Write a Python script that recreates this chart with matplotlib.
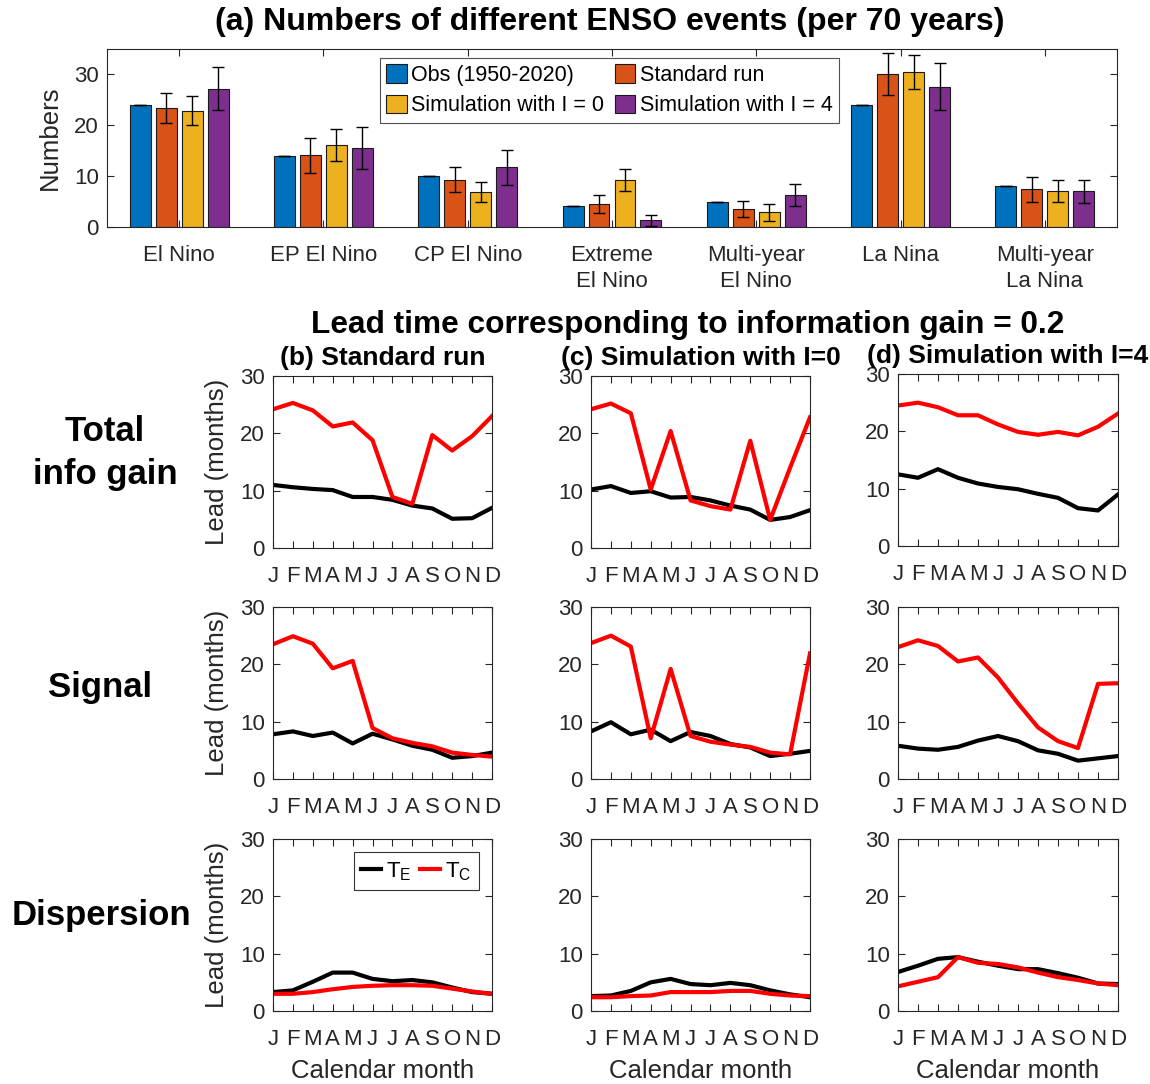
import numpy as np
import matplotlib.pyplot as plt

plt.rcParams['font.family'] = ['Liberation Sans', 'DejaVu Sans']

W, H = 1150, 1084
GRAY = '#262626'

# ---- data: (a) event counts per 70 years ----
events = ['El Nino', 'EP El Nino', 'CP El Nino', 'Extreme\nEl Nino',
          'Multi-year\nEl Nino', 'La Nina', 'Multi-year\nLa Nina']
obs = [24.0, 14.0, 10.0, 4.1, 5.0, 24.0, 8.0]
obs_err = [0, 0, 0, 0, 0, 0, 0]
std_run = [23.4, 14.1, 9.3, 4.5, 3.6, 30.1, 7.4]
std_err = [3.0, 3.4, 2.5, 1.8, 1.6, 4.2, 2.4]
sim0 = [22.9, 16.1, 6.9, 9.2, 2.9, 30.5, 7.1]
sim0_err = [2.8, 3.1, 1.9, 2.2, 1.7, 3.3, 2.2]
sim4 = [27.2, 15.6, 11.7, 1.3, 6.3, 27.6, 7.0]
sim4_err = [4.2, 4.1, 3.4, 1.1, 2.2, 4.6, 2.3]
bar_names = ['Obs (1950-2020)', 'Standard run', 'Simulation with I = 0', 'Simulation with I = 4']
bar_colors = ['#0072BD', '#D95319', '#EDB120', '#7E2F8E']

# ---- data: lead time (months) for info gain = 0.2 ----
months = ['J', 'F', 'M', 'A', 'M', 'J', 'J', 'A', 'S', 'O', 'N', 'D']

# total info gain
te_total_b = [11.0, 10.6, 10.3, 10.1, 8.9, 8.9, 8.4, 7.4, 6.9, 5.1, 5.2, 7.0]
tc_total_b = [24.2, 25.3, 24.0, 21.2, 21.9, 18.8, 8.9, 7.7, 19.7, 17.0, 19.5, 23.0]
te_total_c = [10.2, 10.8, 9.6, 9.9, 8.8, 8.9, 8.3, 7.4, 6.7, 4.9, 5.4, 6.6]
tc_total_c = [24.2, 25.2, 23.5, 10.2, 20.4, 8.3, 7.3, 6.7, 18.7, 4.9, 14.0, 22.8]
te_total_d = [12.5, 11.9, 13.4, 11.9, 10.9, 10.3, 9.9, 9.1, 8.4, 6.6, 6.2, 9.0]
tc_total_d = [24.5, 25.0, 24.2, 22.8, 22.8, 21.2, 19.9, 19.4, 19.9, 19.3, 20.8, 23.1]

# signal
te_signal_b = [7.8, 8.3, 7.5, 8.1, 6.2, 7.9, 6.9, 5.8, 5.1, 3.7, 4.0, 4.6]
tc_signal_b = [23.5, 24.9, 23.6, 19.3, 20.6, 8.9, 7.1, 6.3, 5.7, 4.6, 4.2, 3.9]
te_signal_c = [8.3, 9.9, 7.8, 8.6, 6.6, 8.2, 7.5, 6.1, 5.5, 4.0, 4.4, 4.9]
tc_signal_c = [23.7, 25.0, 23.1, 7.1, 19.2, 7.5, 6.5, 6.0, 5.6, 4.6, 4.3, 21.9]
te_signal_d = [5.8, 5.3, 5.1, 5.6, 6.7, 7.5, 6.6, 5.0, 4.4, 3.2, 3.6, 4.0]
tc_signal_d = [23.0, 24.2, 23.2, 20.5, 21.2, 17.7, 13.2, 9.0, 6.6, 5.4, 16.6, 16.7]

# dispersion
te_disp_b = [3.3, 3.6, 5.1, 6.7, 6.7, 5.6, 5.2, 5.4, 5.0, 4.1, 3.3, 3.0]
tc_disp_b = [3.0, 3.0, 3.3, 3.8, 4.2, 4.4, 4.5, 4.5, 4.4, 3.9, 3.4, 3.0]
te_disp_c = [2.6, 2.7, 3.5, 5.0, 5.6, 4.7, 4.5, 4.9, 4.5, 3.6, 2.9, 2.4]
tc_disp_c = [2.4, 2.4, 2.6, 2.7, 3.3, 3.3, 3.3, 3.5, 3.5, 3.0, 2.7, 2.6]
te_disp_d = [6.8, 7.9, 9.1, 9.4, 8.6, 7.9, 7.3, 7.3, 6.6, 5.8, 4.8, 4.7]
tc_disp_d = [4.3, 5.1, 5.9, 9.4, 8.4, 8.2, 7.6, 6.7, 5.9, 5.4, 4.8, 4.5]

col_titles = ['(b) Standard run', '(c) Simulation with I=0', '(d) Simulation with I=4']
row_titles = ['Total\ninfo gain', 'Signal', 'Dispersion']


def box(l, t, r, b):
    # pixel box -> figure fraction
    return [l / W, 1 - b / H, (r - l) / W, (b - t) / H]


def style(ax):
    ax.tick_params(direction='in', top=True, right=True, length=5, width=0.8,
                   colors=GRAY, labelsize=16)
    for s in ax.spines.values():
        s.set_color(GRAY)
        s.set_linewidth(0.8)


fig = plt.figure(figsize=(W / 100, H / 100), dpi=100)

#%% (a) bar chart
ax = fig.add_axes(box(107, 49, 1117, 227))
x = np.arange(1, len(events) + 1)
offsets = [-0.27, -0.09, 0.09, 0.27]
series = [(obs, obs_err), (std_run, std_err), (sim0, sim0_err), (sim4, sim4_err)]
handles = []
for (vals, err), off, c, name in zip(series, offsets, bar_colors, bar_names):
    h = ax.bar(x + off, vals, width=0.145, color=c, edgecolor='#1a1a1a', linewidth=0.8,
               label=name, zorder=2)
    ax.errorbar(x + off, vals, yerr=err, fmt='none', ecolor='black', elinewidth=1,
                capsize=4, capthick=1, zorder=3)
    handles.append(h)
ax.set_xlim(0.5, 7.5)
ax.set_ylim(0, 35)
ax.set_yticks([0, 10, 20, 30])
ax.set_xticks(x)
ax.set_xticklabels(events, fontsize=16.8)
for t in ax.get_xticklabels():
    t.set_linespacing(1.3)
style(ax)
ax.tick_params(axis='x', pad=13)
ax.tick_params(axis='y', pad=6)
order = [0, 2, 1, 3]
leg = ax.legend([handles[i] for i in order], [bar_names[i] for i in order], ncol=2,
                loc='upper left', bbox_to_anchor=(380 / W, 1 - 58 / H),
                bbox_transform=fig.transFigure, fontsize=15.5, frameon=True, fancybox=False,
                handlelength=0.95, handleheight=0.95, handletextpad=0.2, columnspacing=0.5,
                borderpad=0.3, labelspacing=0.4, borderaxespad=0)
leg.get_frame().set_edgecolor(GRAY)
leg.get_frame().set_linewidth(0.8)
fig.text(50 / W, 1 - 138 / H, 'Numbers', rotation=90, ha='center', va='center',
         fontsize=18.5, color=GRAY)
fig.text(610 / W, 1 - 22 / H, '(a) Numbers of different ENSO events (per 70 years)',
         ha='center', va='center', fontsize=23, fontweight='bold')

#%% (b)-(d) lead time panels
fig.text(688 / W, 1 - 325 / H, 'Lead time corresponding to information gain = 0.2',
         ha='center', va='center', fontsize=22.8, fontweight='bold')

cols = [(273, 492), (591, 810), (898, 1118)]
rows = [(376, 548), (607, 779), (839, 1011)]
lines = [
    [(te_total_b, tc_total_b), (te_total_c, tc_total_c), (te_total_d, tc_total_d)],
    [(te_signal_b, tc_signal_b), (te_signal_c, tc_signal_c), (te_signal_d, tc_signal_d)],
    [(te_disp_b, tc_disp_b), (te_disp_c, tc_disp_c), (te_disp_d, tc_disp_d)],
]
mx = np.arange(1, 13)
for i, (t, b) in enumerate(rows):
    for j, (l, r) in enumerate(cols):
        tt, bb = (t - 2, b - 2) if (i == 0 and j == 2) else (t, b)
        a = fig.add_axes(box(l, tt, r, bb))
        te, tc = lines[i][j]
        a.plot(mx, te, color='black', lw=3, label=r'$\mathregular{T_E}$')
        a.plot(mx, tc, color='red', lw=3, label=r'$\mathregular{T_C}$')
        a.set_xlim(1, 12)
        a.set_ylim(0, 30)
        a.set_yticks([0, 10, 20, 30])
        a.set_xticks(mx)
        a.set_xticklabels(months)
        style(a)
        a.tick_params(axis='x', pad=13)
        a.tick_params(axis='y', pad=6)
        if j == 0:
            fig.text(217 / W, 1 - (tt + bb) / 2 / H, 'Lead (months)', rotation=90,
                     ha='center', va='center', fontsize=18.5, color=GRAY)
        if i == 0:
            fig.text((l + r) / 2 / W, 1 - (tt - 18) / H, col_titles[j], ha='center',
                     va='center', fontsize=19, fontweight='bold')
        if i == 2:
            fig.text((l + r) / 2 / W, 1 - 1071 / H, 'Calendar month', ha='center',
                     va='center', fontsize=18.5, color=GRAY)
        if i == 2 and j == 0:
            lg = a.legend(ncol=2, loc='upper right', fontsize=16, frameon=True,
                          fancybox=False, handlelength=0.9, handletextpad=0.2,
                          columnspacing=0.4, borderpad=0.35, borderaxespad=0.6)
            lg.get_frame().set_edgecolor('black')
            lg.get_frame().set_linewidth(0.8)

fig.text(105 / W, 1 - 453 / H, row_titles[0], ha='center', va='center',
         fontsize=25, fontweight='bold', linespacing=1.4)
fig.text(100 / W, 1 - 688 / H, row_titles[1], ha='center', va='center',
         fontsize=25, fontweight='bold')
fig.text(101 / W, 1 - 915 / H, row_titles[2], ha='center', va='center',
         fontsize=25, fontweight='bold')

plt.savefig('out.png', dpi=100)
